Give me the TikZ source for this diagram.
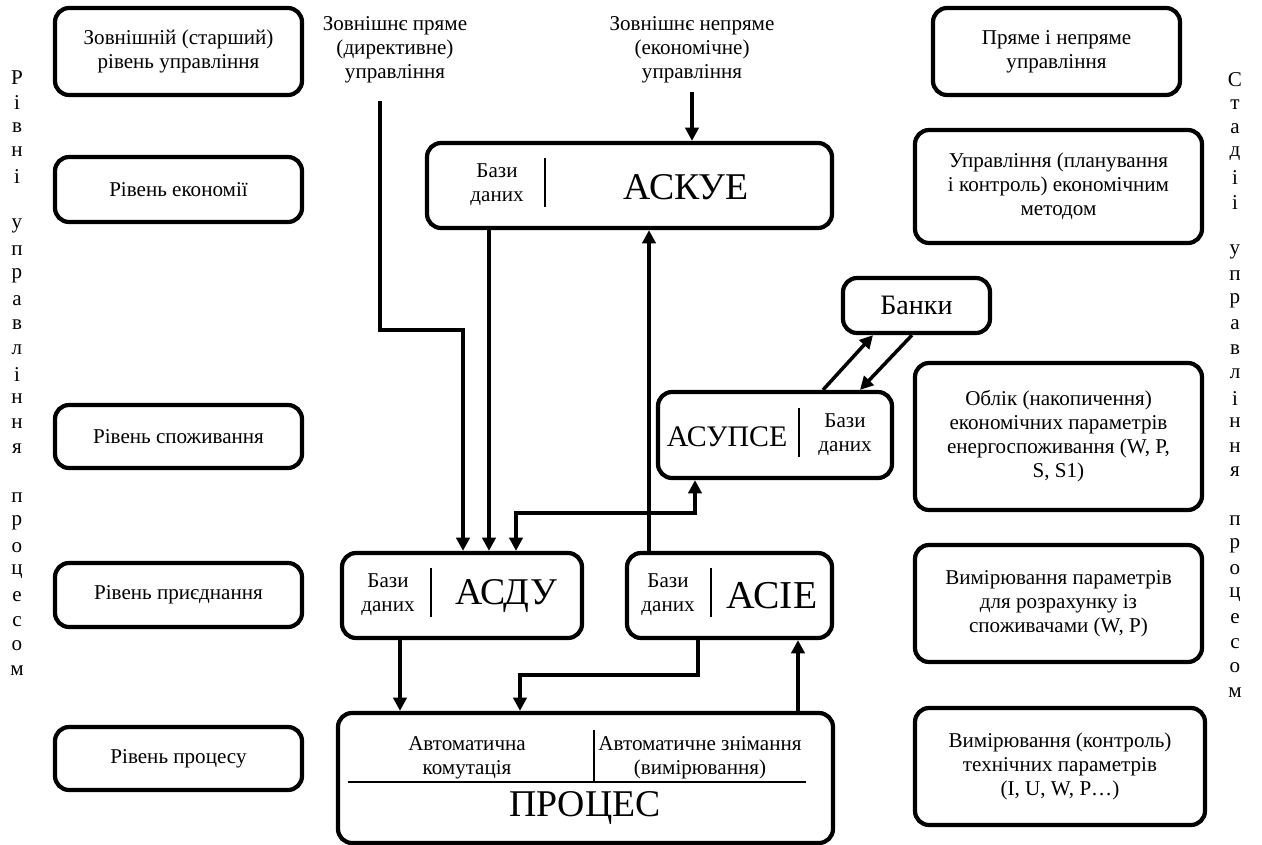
\documentclass[tikz,border=0pt]{standalone}
\usepackage{fontspec}
\setmainfont{Liberation Serif}
\usetikzlibrary{arrows.meta}
\newlength{\upx}\setlength{\upx}{0.02cm}
\tikzset{
  levelbox/.style = {draw, line width=2.4pt, rounded corners=8pt, align=center,
                     inner sep=0pt, font=\fontsize{12}{13.6}\selectfont},
  txt/.style      = {align=center, inner sep=0pt, font=\fontsize{12}{13.6}\selectfont},
  bigtxt/.style   = {inner sep=0pt, font=\fontsize{21.5}{25}\selectfont},
  letter/.style   = {inner sep=0pt, font=\fontsize{12}{13.6}\selectfont},
  sepline/.style  = {line width=1.1pt},
  flow/.style     = {-{Triangle[length=7.5pt,width=7.5pt]}, line width=2pt},
  flowboth/.style = {{Triangle[length=7.5pt,width=7.5pt]}-{Triangle[length=7.5pt,width=7.5pt]}, line width=2pt},
}
\begin{document}
\begin{tikzpicture}[x=0.02cm, y=-0.02cm]
  \useasboundingbox (0,0) rectangle (1262,845);

  % vertical captions
  \foreach \ch/\k in {Р/0,і/1,в/2,н/3,і/4,у/6,п/7,р/8,а/9,в/10,л/11,і/12,н/13,н/14,я/15,
                      п/17,р/18,о/19,ц/20,е/21,с/22,о/23,м/24}
    \node[letter] (lv\k) at (17,78+24.7*\k) {\ch};
  \foreach \ch/\k in {С/0,т/1,а/2,д/3,і/4,і/5,у/7,п/8,р/9,а/10,в/11,л/12,і/13,н/14,н/15,я/16,
                      п/18,р/19,о/20,ц/21,е/22,с/23,о/24,м/25}
    \node[letter] (rv\k) at (1235,80+24.5*\k) {\ch};

  % levels (left)
  \node[levelbox, minimum width=247\upx, minimum height=87\upx] (lvext)  at (178.5,51.5)  {Зовнішній (старший)\\рівень управління};
  \node[levelbox, minimum width=247\upx, minimum height=65\upx] (lvecon) at (178.5,189.5) {Рівень економії};
  \node[levelbox, minimum width=247\upx, minimum height=63\upx] (lvcons) at (178.5,436.5) {Рівень споживання};
  \node[levelbox, minimum width=247\upx, minimum height=64\upx] (lvconn) at (178.5,595)   {Рівень приєднання};
  \node[levelbox, minimum width=247\upx, minimum height=63\upx] (lvproc) at (178.5,758.5) {Рівень процесу};

  % stages (right)
  \node[levelbox, minimum width=247\upx, minimum height=87\upx]  (stdir)  at (1056.5,51.5)  {Пряме і непряме\\управління};
  \node[levelbox, minimum width=287\upx, minimum height=113\upx] (stplan) at (1058.5,186.5) {Управління (планування\\і контроль) економічним\\методом};
  \node[levelbox, minimum width=287\upx, minimum height=147\upx] (stacc)  at (1058.5,436.5) {Облік (накопичення)\\економічних параметрів\\енергоспоживання (W, P,\\S, S1)};
  \node[levelbox, minimum width=287\upx, minimum height=117\upx] (stmeas) at (1058.5,603.5) {Вимірювання параметрів\\для розрахунку із\\споживачами (W, P)};
  \node[levelbox, minimum width=290\upx, minimum height=117\upx] (sttech) at (1060,766.5)   {Вимірювання (контроль)\\технічних параметрів\\(I, U, W, P…)};

  % external control
  \node[txt] (extdir) at (395,50) {Зовнішнє пряме\\(директивне)\\управління};
  \node[txt] (extind) at (692,50) {Зовнішнє непряме\\(економічне)\\управління};

  % systems
  \node[levelbox, minimum width=405\upx, minimum height=85\upx] (askue) at (629.5,185.5) {};
  \node[txt] (askuedb) at (497,185) {Бази\\даних};
  \draw[sepline] (545,158) -- (545,207);
  \node[bigtxt] (askuename) at (686,187) {АСКУЕ};

  \node[levelbox, minimum width=147\upx, minimum height=55\upx, font=\fontsize{16}{19}\selectfont] (banky) at (916.5,305.5) {Банки};

  \node[levelbox, minimum width=234\upx, minimum height=86\upx] (asupse) at (775,435) {};
  \node[bigtxt, font=\fontsize{17}{20}\selectfont] (asupsename) at (727,437) {АСУПСЕ};
  \draw[sepline] (799,408) -- (799,457);
  \node[txt] (asupsedb) at (845,435) {Бази\\даних};

  \node[levelbox, minimum width=240\upx, minimum height=85\upx] (asdu) at (462,595.5) {};
  \node[txt] (asdudb) at (388,595) {Бази\\даних};
  \draw[sepline] (431,568) -- (431,617);
  \node[bigtxt] (asduname) at (506,596) {АСДУ};

  \node[levelbox, minimum width=205\upx, minimum height=85\upx] (asie) at (729.5,595.5) {};
  \node[txt] (asiedb) at (668,595) {Бази\\даних};
  \draw[sepline] (711,568) -- (711,617);
  \node[bigtxt, font=\fontsize{22.5}{26}\selectfont] (asiename) at (772,596) {АСІЕ};

  \node[levelbox, minimum width=495\upx, minimum height=130\upx] (proc) at (585.5,778) {};
  \node[txt] (proccomm) at (467,758) {Автоматична\\комутація};
  \node[txt] (procmeas) at (700,758) {Автоматичне знімання\\(вимірювання)};
  \draw[sepline] (348,782) -- (806,782);
  \draw[sepline] (594,730) -- (594,782);
  \node[bigtxt] (procname) at (585,808) {ПРОЦЕС};

  % connections
  \draw[flow, shorten <=5pt] (extind.south) -- (extind.south |- askue.north);
  \draw[flow, shorten <=10pt] (extdir.south -| 380,0) -- (380,330) -| (asdu.north -| 463,0);
  \draw[flow] (askue.south -| 489,0) -- (asdu.north -| 489,0);
  \draw[flow] (asie.north -| 649,0) -- (askue.south -| 649,0);
  \draw[flowboth] (asdu.north -| 516,0) -- (516,513) -| (asupse.south -| 695,0);
  \draw[flow] (asupse.north -| 823,0) -- (banky.south -| 873,0);
  \draw[flow] (banky.south -| 912,0) -- (asupse.north -| 860,0);
  \draw[flow] (asdu.south -| 400,0) -- (proc.north -| 400,0);
  \draw[flow] (asie.south -| 698,0) -- (698,675) -| (proc.north -| 520,0);
  \draw[flow] (proc.north -| 798,0) -- (asie.south -| 798,0);
\end{tikzpicture}
\end{document}
